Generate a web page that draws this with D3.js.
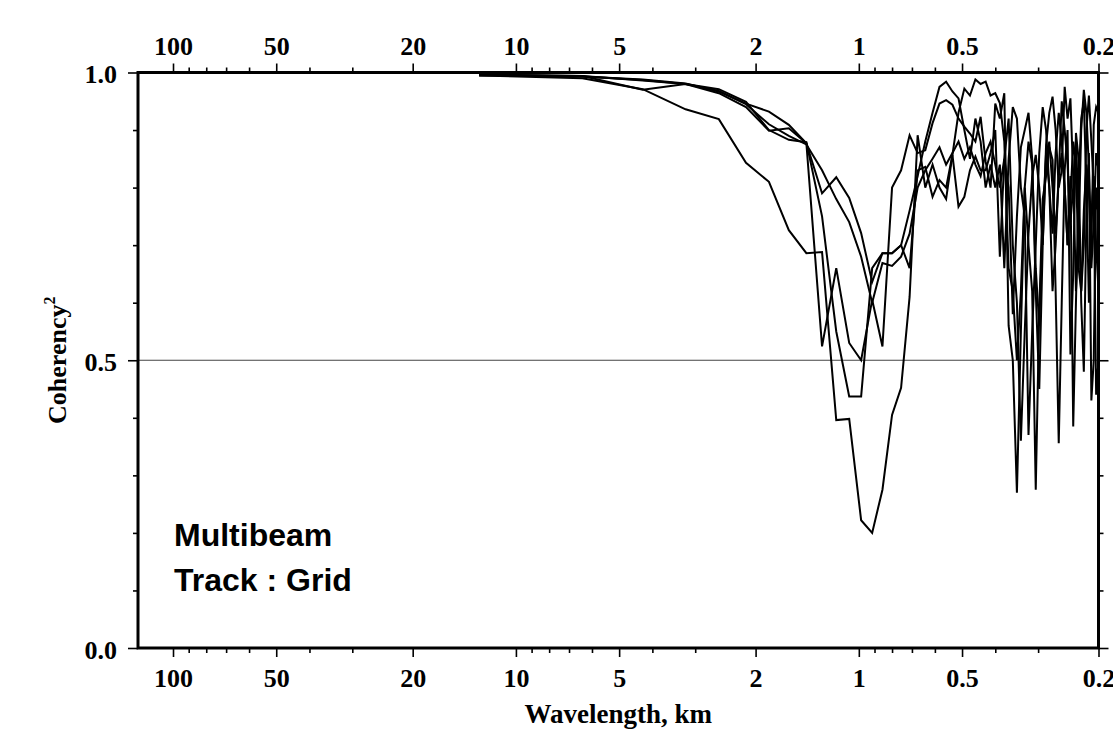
<!DOCTYPE html>
<html>
<head>
<meta charset="utf-8">
<script src="https://cdn.jsdelivr.net/npm/d3@7"></script>
<style>
  body { margin: 0; background: #fff; }
  .serif text { font-family: "Liberation Serif", "Times New Roman", serif; font-weight: bold; }
</style>
</head>
<body>
<div id="chart"></div>
<script>
var width = 1113, height = 735;

// wavelengths (km) of the spectral estimates, one per sample
var wavelength = [12.8, 6.4, 4.2667, 3.2, 2.56, 2.1333, 1.8286, 1.6, 1.4222, 1.28,
  1.1636, 1.0667, 0.9846, 0.9143, 0.8533, 0.8, 0.7529, 0.7111, 0.6737, 0.64,
  0.6095, 0.5818, 0.5565, 0.5333, 0.512, 0.4923, 0.4741, 0.4571, 0.4414, 0.4267,
  0.4129, 0.4, 0.3879, 0.3765, 0.3657, 0.3556, 0.3459, 0.3368, 0.3282, 0.32,
  0.3122, 0.3048, 0.2977, 0.2909, 0.2844, 0.2783, 0.2723, 0.2667, 0.2612, 0.256,
  0.251, 0.2462, 0.2415, 0.237, 0.2327, 0.2286, 0.2246, 0.2207, 0.2169, 0.2133,
  0.2098, 0.2065, 0.2032, 0.2];

// coherency^2 for each track/grid pair
var cohA = [.995,.993,.988,.981,.967,.946,.932,.909,.877,
  .79,.818,.782,.721,.636,.686,.686,
  .70,.66,.83,.836,.784,.813,.80,.857,.767,.784,.83,.854,.83,.83,.86,.90,.68,.85,.92,
  .70,.60,.36,.55,.72,.819,.857,.80,.70,.874,.93,.958,.90,.80,.83,.975,.92,.955,.82,.62,.72,.90,.97,.93,.834,.70,.909,.94,.93];
var cohB = [.996,.994,.986,.98,.964,.94,.899,.903,.877,
  .524,.66,.53,.50,.605,.524,.80,
  .83,.891,.86,.865,.912,.946,.952,.944,.92,.906,.894,.88,.923,.845,.80,.946,.92,.964,.56,
  .50,.27,.55,.80,.70,.62,.275,.587,.78,.82,.87,.848,.62,.356,.60,.83,.90,.51,.65,.895,.85,.60,.48,.75,.86,.43,.50,.80,.75];
var cohC = [.996,.993,.987,.98,.971,.949,.90,.883,.879,
  .75,.55,.437,.437,.66,.686,.686,
  .70,.76,.82,.88,.93,.975,.984,.967,.955,.90,.85,.92,.88,.80,.84,.80,.84,.66,.85,
  .94,.92,.80,.75,.37,.55,.70,.86,.94,.90,.80,.72,.86,.93,.88,.80,.70,.82,.385,.60,.80,.92,.95,.80,.60,.75,.82,.70,.62];
var cohD = [.995,.99,.971,.936,.919,.843,.81,.726,.686,
  .688,.396,.398,.222,.200,.275,.405,
  .452,.61,.891,.80,.84,.80,.78,.857,.93,.972,.96,.988,.98,.984,.96,.964,.947,.88,.66,
  .62,.50,.62,.80,.88,.84,.66,.56,.74,.86,.80,.62,.70,.82,.86,.80,.70,.78,.88,.84,.66,.62,.76,.84,.80,.66,.74,.86,.83];
var cohE = [.996,.994,.97,.98,.968,.945,.91,.89,.875,
  .83,.78,.74,.68,.60,.669,.664,
  .68,.72,.80,.83,.85,.87,.84,.86,.88,.85,.87,.84,.82,.86,.88,.84,.80,.85,.80,
  .58,.75,.87,.90,.93,.85,.62,.45,.70,.85,.88,.80,.72,.82,.95,.90,.84,.74,.80,.88,.76,.62,.70,.90,.96,.88,.80,.44,.50];

var xMajor = [100, 50, 20, 10, 5, 2, 1, 0.5, 0.2];
var xMinor = [90, 80, 70, 60, 40, 30, 9, 8, 7, 6, 4, 3, 0.9, 0.8, 0.7, 0.6, 0.4, 0.3];
var yMajor = [0, 0.5, 1];
var yMinor = [0.1, 0.2, 0.3, 0.4, 0.6, 0.7, 0.8, 0.9];

var margin = {left: 138, right: 14.5, top: 72.5, bottom: 87};

var svg = d3.select('#chart').append('svg')
  .attr('width', width)
  .attr('height', height)
  .style('display', 'block');

svg.append('rect').attr('width', width).attr('height', height).attr('fill', '#fff');

var x = d3.scaleLog()
  .domain([126.5, 0.2])
  .range([margin.left, width - margin.right]);

var y = d3.scaleLinear()
  .domain([0, 1])
  .range([height - margin.bottom, margin.top]);

var x0 = x.range()[0], x1 = x.range()[1], y0 = y.range()[0], y1 = y.range()[1];

// reference line at 0.5
svg.append('line')
  .attr('x1', x0).attr('x2', x1)
  .attr('y1', y(0.5)).attr('y2', y(0.5))
  .attr('stroke', '#444')
  .attr('stroke-width', 1.2);

// curves
var series = [cohA, cohB, cohC, cohD, cohE];
var line = d3.line()
  .x(function(d, i) { return x(wavelength[i]); })
  .y(function(d) { return y(d); });

svg.append('g')
  .selectAll('path')
  .data(series)
  .enter()
  .append('path')
  .attr('d', line)
  .attr('fill', 'none')
  .attr('stroke', '#000')
  .attr('stroke-width', 2)
  .attr('stroke-linejoin', 'miter');

var fmt = function(d) { return String(d); };

function styleAxis(g) {
  g.select('.domain').remove();
  g.selectAll('line').attr('stroke', '#000').attr('stroke-width', 1.6);
  g.selectAll('text').attr('fill', '#000').style('font-size', '26px');
}

// bottom axis
svg.append('g').attr('class', 'serif')
  .attr('transform', 'translate(0,' + y0 + ')')
  .call(d3.axisBottom(x).tickValues(xMajor).tickFormat(fmt).tickSize(9).tickPadding(12))
  .call(styleAxis);
svg.append('g')
  .attr('transform', 'translate(0,' + y0 + ')')
  .call(d3.axisBottom(x).tickValues(xMinor).tickFormat('').tickSize(5))
  .call(styleAxis);

// top axis
svg.append('g').attr('class', 'serif')
  .attr('transform', 'translate(0,' + y1 + ')')
  .call(d3.axisTop(x).tickValues(xMajor).tickFormat(fmt).tickSize(9).tickPadding(9))
  .call(styleAxis);
svg.append('g')
  .attr('transform', 'translate(0,' + y1 + ')')
  .call(d3.axisTop(x).tickValues(xMinor).tickFormat('').tickSize(5))
  .call(styleAxis);

// left axis
svg.append('g').attr('class', 'serif')
  .attr('transform', 'translate(' + x0 + ',0)')
  .call(d3.axisLeft(y).tickValues(yMajor).tickFormat(d3.format('.1f')).tickSize(10).tickPadding(11))
  .call(styleAxis)
  .selectAll('text').attr('dy', '0.4em');
svg.append('g')
  .attr('transform', 'translate(' + x0 + ',0)')
  .call(d3.axisLeft(y).tickValues(yMinor).tickFormat('').tickSize(5))
  .call(styleAxis);

// right axis, ticks only
svg.append('g')
  .attr('transform', 'translate(' + x1 + ',0)')
  .call(d3.axisRight(y).tickValues(yMajor).tickFormat('').tickSize(10))
  .call(styleAxis);
svg.append('g')
  .attr('transform', 'translate(' + x1 + ',0)')
  .call(d3.axisRight(y).tickValues(yMinor).tickFormat('').tickSize(5))
  .call(styleAxis);

// frame
svg.append('rect')
  .attr('x', x0).attr('y', y1)
  .attr('width', x1 - x0).attr('height', y0 - y1)
  .attr('fill', 'none')
  .attr('stroke', '#000')
  .attr('stroke-width', 3);

// axis titles
var titles = svg.append('g').attr('class', 'serif');
titles.append('text')
  .attr('x', (x0 + x1) / 2)
  .attr('y', 723)
  .attr('text-anchor', 'middle')
  .style('font-size', '27px')
  .text('Wavelength, km');

var ylab = titles.append('text')
  .attr('transform', 'translate(66,' + ((y0 + y1) / 2) + ') rotate(-90)')
  .attr('text-anchor', 'middle')
  .style('font-size', '26px');
ylab.append('tspan').text('Coherency');
ylab.append('tspan').attr('dy', -11).style('font-size', '16px').text('2');

// annotation
var note = svg.append('g')
  .style('font-family', '"Liberation Sans", Arial, Helvetica, sans-serif')
  .style('font-weight', 'bold')
  .style('font-size', '32px');
note.append('text').attr('x', 174).attr('y', 546).text('Multibeam');
note.append('text').attr('x', 174).attr('y', 591).text('Track : Grid');
</script>
</body>
</html>
